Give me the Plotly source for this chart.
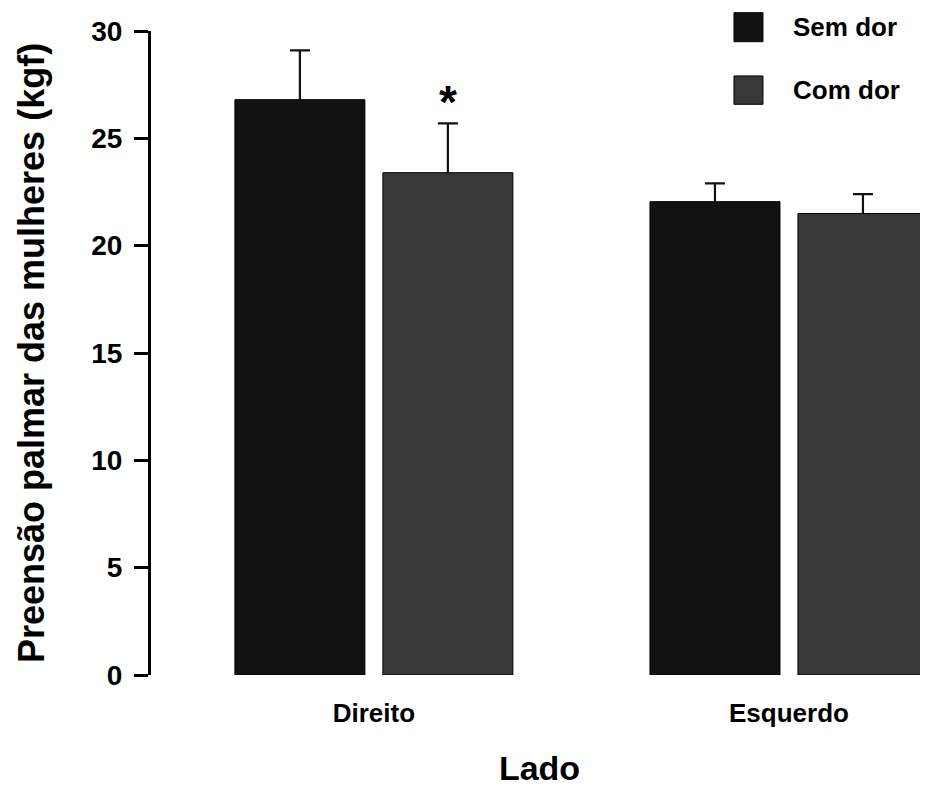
import plotly.graph_objects as go

categories = ["Direito", "Esquerdo"]
series_names = ["Sem dor", "Com dor"]
sem_dor = [26.8, 22.05]
sem_dor_err = [2.3, 0.85]
com_dor = [23.4, 21.5]
com_dor_err = [2.3, 0.9]
y_ticks = [0, 5, 10, 15, 20, 25, 30]
colors = ["#121212", "#383838"]

FONT = "Liberation Sans, Arial, Helvetica, sans-serif"
bargap = 0.287
bargroupgap = 0.1216

fig = go.Figure()
series = list(zip(series_names, [sem_dor, com_dor], [sem_dor_err, com_dor_err], colors))

# error bars first (their lower half is then hidden behind the bars drawn afterwards)
for name, vals, errs, col in series:
    fig.add_trace(go.Bar(
        x=categories, y=vals, name=name + " SD", offsetgroup=name,
        marker=dict(color="rgba(0,0,0,0)", line=dict(width=0)),
        error_y=dict(type="data", array=errs, symmetric=True,
                     color="#111111", thickness=2.2, width=10),
        showlegend=False, hoverinfo="skip",
    ))
for name, vals, errs, col in series:
    fig.add_trace(go.Bar(
        x=categories, y=vals, name=name, offsetgroup=name,
        marker=dict(color=col, line=dict(color="#000000", width=1)),
        showlegend=False,
    ))

# significance asterisk above "Com dor" on "Direito"
slot = (1 - bargap) / 2
fig.add_annotation(x=0 + slot / 2, y=com_dor[0] + com_dor_err[0], xref="x", yref="y",
                   text="*", showarrow=False, yanchor="bottom", yshift=-7,
                   font=dict(family=FONT, size=46, color="#000000", weight="bold"))

# legend drawn as squares + labels
leg_x0, leg_x1 = 0.7503, 0.7876
leg_rows = [(1.0284, 0.9834, 1.0059), (0.9302, 0.8862, 0.908)]
for name, col, (ytop, ybot, ymid) in zip(series_names, colors, leg_rows):
    fig.add_shape(type="rect", xref="paper", yref="paper", x0=leg_x0, x1=leg_x1, y0=ybot, y1=ytop,
                  fillcolor=col, line=dict(color="#000000", width=1))
    fig.add_annotation(x=0.8233, y=ymid, xref="paper", yref="paper", text=name, showarrow=False,
                       xanchor="left", yanchor="middle",
                       font=dict(family=FONT, size=26, color="#000000", weight="bold"))

fig.update_layout(
    width=920, height=793,
    margin=dict(l=143, r=0, t=23, b=126),
    paper_bgcolor="white", plot_bgcolor="white",
    barmode="group", bargap=bargap, bargroupgap=bargroupgap,
    font=dict(family=FONT, color="#000000"),
    xaxis=dict(
        range=[-0.537, 1.335], showline=False, showgrid=False, zeroline=False,
        ticks="outside", ticklen=15, tickcolor="rgba(0,0,0,0)",
        tickfont=dict(family=FONT, size=26, weight="bold"),
        title=dict(text="Lado", font=dict(family=FONT, size=34, weight="bold"), standoff=28),
    ),
    yaxis=dict(
        range=[0, 30], tickvals=y_ticks, showline=True, linecolor="#000000", linewidth=3,
        ticks="outside", ticklen=14, tickwidth=3, tickcolor="#000000",
        ticklabelstandoff=6,
        showgrid=False, zeroline=False,
        tickfont=dict(family=FONT, size=28, weight="bold"),
        title=dict(text="Preensão palmar das mulheres (kgf)",
                   font=dict(family=FONT, size=36, weight="bold"), standoff=36),
    ),
)

fig.write_html("out.html")
